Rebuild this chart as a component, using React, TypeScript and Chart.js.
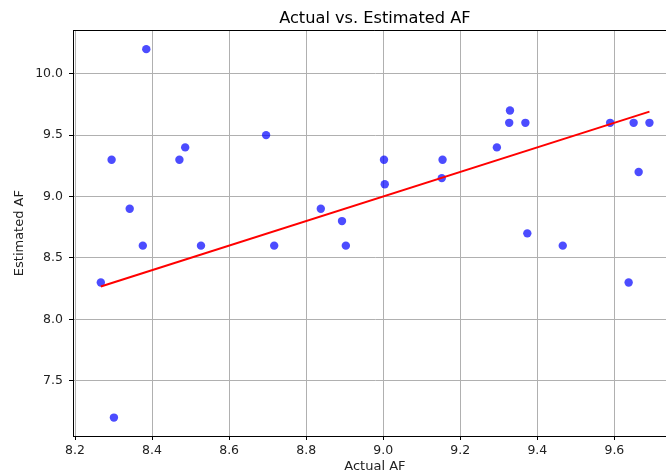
import React, { useEffect, useRef } from "react";
import { Chart, registerables } from "chart.js";

Chart.register(...registerables);

const actualAF = [8.267, 8.295, 8.301, 8.342, 8.376, 8.385, 8.471, 8.486, 8.527, 8.696, 8.717, 8.838, 8.893, 8.903, 9.002, 9.004, 9.154, 9.152, 9.295, 9.329, 9.327, 9.369, 9.374, 9.466, 9.589, 9.637, 9.65, 9.663, 9.691];
const estimatedAF = [8.3, 9.3, 7.2, 8.9, 8.6, 10.2, 9.3, 9.4, 8.6, 9.5, 8.6, 8.9, 8.8, 8.6, 9.3, 9.1, 9.3, 9.15, 9.4, 9.7, 9.6, 9.6, 8.7, 8.6, 9.6, 8.3, 9.6, 9.2, 9.6];
const refLineX = [8.267, 9.691];
const refLineY = [8.267, 9.691];
const xTickValues = [8.2, 8.4, 8.6, 8.8, 9.0, 9.2, 9.4, 9.6];
const yTickValues = [7.5, 8.0, 8.5, 9.0, 9.5, 10.0];

const FONT = "'DejaVu Sans', sans-serif";

const topSpine = {
  id: "topSpine",
  afterDraw(chart: any) {
    const { ctx, chartArea } = chart;
    ctx.save();
    ctx.strokeStyle = "#000";
    ctx.lineWidth = 1;
    ctx.beginPath();
    const y = Math.round(chartArea.top) + 0.5;
    ctx.moveTo(chartArea.left, y);
    ctx.lineTo(chartArea.right, y);
    ctx.stroke();
    ctx.restore();
  },
};

export default function App() {
  const ref = useRef<HTMLCanvasElement>(null);
  useEffect(() => {
    if (!ref.current) return;
    const chart = new Chart(ref.current, {
      type: "scatter",
      data: {
        datasets: [
          {
            type: "line",
            data: refLineX.map((x, i) => ({ x, y: refLineY[i] })),
            borderColor: "#ff0000",
            borderWidth: 2,
            pointRadius: 0,
            fill: false,
            order: 0,
          } as any,
          {
            data: actualAF.map((x, i) => ({ x, y: estimatedAF[i] })),
            backgroundColor: "rgba(0,0,255,0.7)",
            borderWidth: 0,
            pointRadius: 4.2,
            order: 1,
          },
        ],
      },
      plugins: [topSpine],
      options: {
        animation: false,
        responsive: false,
        layout: { padding: 0 },
        plugins: {
          legend: { display: false },
          tooltip: { enabled: false },
          title: {
            display: true,
            text: "Actual vs. Estimated AF",
            fullSize: false,
            color: "#000",
            font: { family: FONT, size: 16.2, weight: "normal" },
            padding: { top: 9.2, bottom: 1.6 },
          },
        },
        scales: {
          x: {
            type: "linear",
            min: 8.1948,
            max: 9.762,
            afterFit(scale: any) {
              scale.height = 40;
              scale.paddingLeft = 0;
              scale.paddingRight = 0;
            },
            afterBuildTicks(scale: any) {
              scale.ticks = xTickValues.map((v) => ({ value: v }));
            },
            ticks: {
              includeBounds: false,
              padding: 3,
              color: "#222",
              font: { family: FONT, size: 12.5 },
              callback: (v: any) => Number(v).toFixed(1),
            },
            grid: { color: "#b0b0b0", lineWidth: 1, tickLength: 4, tickColor: "#000" },
            border: { display: true, color: "#000", width: 1 },
            title: {
              display: true,
              text: "Actual AF",
              color: "#222",
              font: { family: FONT, size: 13 },
              padding: { top: 0, bottom: 1.8 },
            },
          },
          y: {
            type: "linear",
            min: 7.05,
            max: 10.354,
            afterFit(scale: any) {
              scale.width = 73;
              scale.paddingTop = 0;
              scale.paddingBottom = 0;
            },
            afterBuildTicks(scale: any) {
              scale.ticks = yTickValues.map((v) => ({ value: v }));
            },
            ticks: {
              includeBounds: false,
              padding: 6,
              color: "#222",
              font: { family: FONT, size: 12.5 },
              callback: (v: any) => Number(v).toFixed(1),
            },
            grid: { color: "#b0b0b0", lineWidth: 1, tickLength: 4, tickColor: "#000" },
            border: { display: true, color: "#000", width: 1 },
            title: {
              display: true,
              text: "Estimated AF",
              color: "#222",
              font: { family: FONT, size: 13 },
              padding: { top: 12, bottom: 0 },
            },
          },
        },
      },
    } as any);
    return () => chart.destroy();
  }, []);
  return (
    <div
      style={{
        position: "absolute",
        left: 0,
        top: 0,
        width: 666,
        height: 476,
        overflow: "hidden",
        background: "#fff",
      }}
    >
      <canvas ref={ref} width={681} height={476} style={{ display: "block" }} />
    </div>
  );
}
